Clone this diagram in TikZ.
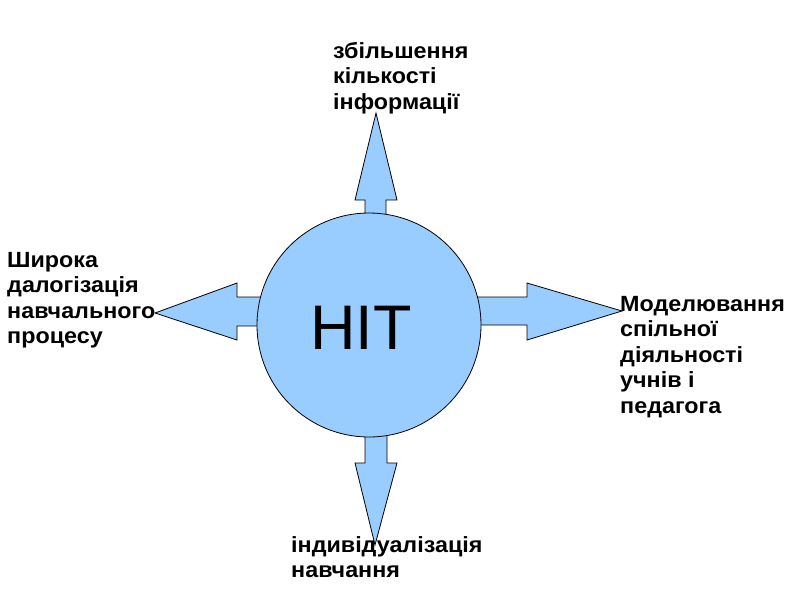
\documentclass[tikz,border=0pt]{standalone}
\usepackage{fontspec}
\setmainfont{Liberation Sans}
\newfontfamily\labelfont[FakeStretch=1.06]{Liberation Sans}
\definecolor{arrowblue}{RGB}{153,204,255}
\tikzset{
  shape fill/.style={fill=arrowblue, draw=black, line width=0.8pt, line join=miter},
  label text/.style={font=\labelfont\bfseries\fontsize{22}{25.5}\selectfont, align=left, inner sep=0pt, anchor=north west},
}
\begin{document}
\begin{tikzpicture}[x=1pt,y=-1pt]
\useasboundingbox (0,0) rectangle (794,595);
% arrows
\draw[shape fill] (365,240) -- (365,200) -- (355,200) -- (376,113) -- (397,200) -- (386,200) -- (386,240) -- cycle;
\draw[shape fill] (365,410) -- (365,463) -- (355,463) -- (375,545) -- (397,463) -- (387,463) -- (387,410) -- cycle;
\draw[shape fill] (290,297) -- (237,297) -- (237,283) -- (155,313) -- (237,340) -- (237,326) -- (290,326) -- cycle;
\draw[shape fill] (450,297) -- (527,297) -- (527,283) -- (622,311) -- (527,340) -- (527,325) -- (450,325) -- cycle;
% hub
\node[circle, shape fill, minimum size=224pt, inner sep=0pt] (hub) at (369,325) {};
\node[font=\fontsize{63}{70}\selectfont, inner sep=0pt] (hit) at (361,327.5) {НІТ};
% labels
\node[label text] (top) at (333,42) {збільшення\\кількості\\інформації};
\node[label text] (left) at (7,252) {Широка\\далогізація\\навчального\\процесу};
\node[label text] (right) at (620,296) {Моделювання\\спільної\\діяльності\\учнів і\\педагога};
\node[label text] (bottom) at (291,536) {індивідуалізація\\навчання};
\end{tikzpicture}
\end{document}
